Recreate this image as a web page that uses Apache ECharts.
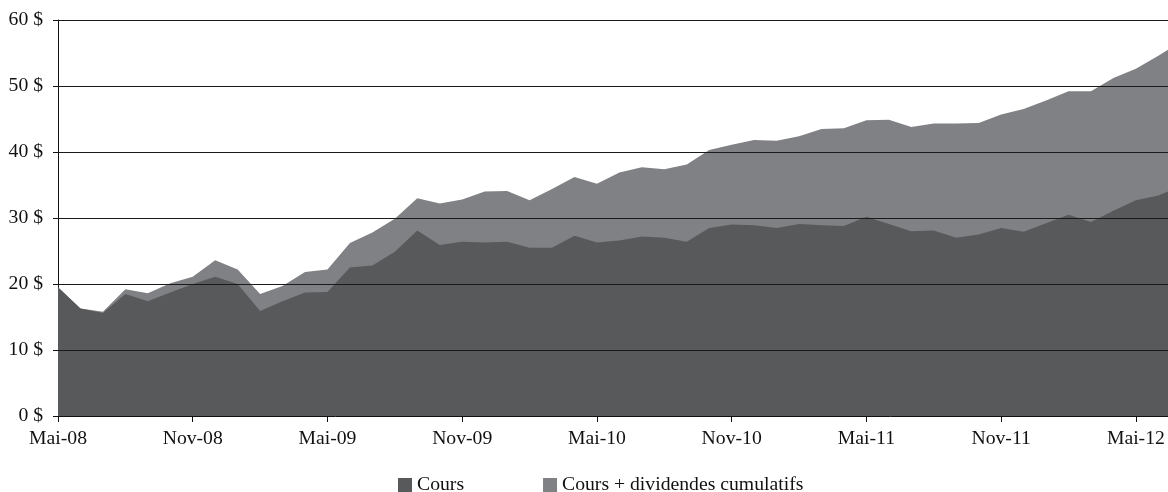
<!DOCTYPE html>
<html>
<head>
<meta charset="utf-8">
<script src="https://cdn.jsdelivr.net/npm/echarts@6/dist/echarts.min.js"></script>
<style>
  html, body { margin: 0; padding: 0; background: #fff; }
  #chart { width: 1168px; height: 492px; }
</style>
</head>
<body>
<div id="chart"></div>
<script>
// Monthly labels, May 2008 to July 2012
const months = [
  'Mai-08','Juin-08','Juil-08','Août-08','Sept-08','Oct-08','Nov-08','Déc-08',
  'Janv-09','Févr-09','Mars-09','Avr-09','Mai-09','Juin-09','Juil-09','Août-09',
  'Sept-09','Oct-09','Nov-09','Déc-09','Janv-10','Févr-10','Mars-10','Avr-10',
  'Mai-10','Juin-10','Juil-10','Août-10','Sept-10','Oct-10','Nov-10','Déc-10',
  'Janv-11','Févr-11','Mars-11','Avr-11','Mai-11','Juin-11','Juil-11','Août-11',
  'Sept-11','Oct-11','Nov-11','Déc-11','Janv-12','Févr-12','Mars-12','Avr-12',
  'Mai-12','Juin-12','Juil-12'
];

// Share price ($)
const cours = [
  19.5, 16.3, 15.6, 18.5, 17.4, 18.7, 20.0, 21.1, 20.0, 15.9, 17.4, 18.7,
  18.8, 22.5, 22.8, 24.9, 28.1, 25.9, 26.4, 26.3, 26.4, 25.5, 25.5, 27.3,
  26.3, 26.6, 27.2, 27.0, 26.4, 28.5, 29.0, 28.9, 28.5, 29.1, 28.9, 28.8,
  30.2, 29.1, 28.0, 28.1, 27.0, 27.5, 28.5, 27.9, 29.2, 30.5, 29.4, 31.1,
  32.7, 33.4, 34.8
];

// Share price plus cumulative dividends ($)
const coursDividendes = [
  19.5, 16.3, 15.8, 19.2, 18.6, 20.1, 21.1, 23.6, 22.2, 18.5, 19.7, 21.8,
  22.2, 26.2, 27.8, 29.9, 33.0, 32.2, 32.8, 34.0, 34.1, 32.7, 34.4, 36.2,
  35.2, 36.9, 37.7, 37.4, 38.1, 40.3, 41.1, 41.8, 41.7, 42.4, 43.5, 43.6,
  44.8, 44.9, 43.8, 44.3, 44.3, 44.4, 45.7, 46.5, 47.8, 49.2, 49.2, 51.2,
  52.6, 54.6, 56.7
];

const yTicks = [0, 10, 20, 30, 40, 50, 60];
const xTickIdx = [0, 6, 12, 18, 24, 30, 36, 42, 48];

const FONT = '"Liberation Serif", "DejaVu Serif", serif';
const FONT_SIZE = 19.7;
const DARK = '#58595b';
const LIGHT = '#808184';

const toPairs = arr => arr.map((v, i) => [i, v]);

const chart = echarts.init(document.getElementById('chart'), null, { renderer: 'canvas' });

chart.setOption({
  animation: false,
  backgroundColor: '#ffffff',
  grid: { left: 58, right: 0, top: 20, bottom: 76, containLabel: false },
  legend: {
    data: ['Cours', 'Cours + dividendes cumulatifs'],
    left: 398,
    top: 475,
    padding: 0,
    icon: 'rect',
    itemWidth: 14,
    itemHeight: 14,
    itemGap: 79,
    textStyle: { fontFamily: FONT, fontSize: FONT_SIZE, color: '#111' }
  },
  xAxis: {
    type: 'value',
    min: 0,
    max: 49.43,
    interval: 6,
    axisLine: { show: true, onZero: false, lineStyle: { color: '#111', width: 1 } },
    axisTick: { show: true, length: 6, lineStyle: { color: '#111' }, customValues: xTickIdx },
    axisLabel: {
      margin: 13,
      fontFamily: FONT,
      fontSize: FONT_SIZE,
      color: '#111',
      customValues: xTickIdx,
      formatter: v => months[Math.round(v)] || ''
    },
    splitLine: { show: false }
  },
  yAxis: {
    type: 'value',
    min: 0,
    max: 60,
    interval: 10,
    axisLine: { show: true, lineStyle: { color: '#111', width: 1 } },
    axisTick: { show: true, length: 5, lineStyle: { color: '#111' } },
    axisLabel: {
      margin: 15,
      fontFamily: FONT,
      fontSize: FONT_SIZE,
      color: '#111',
      formatter: v => v + ' $'
    },
    splitLine: { show: false }
  },
  series: [
    {
      name: 'Cours + dividendes cumulatifs',
      type: 'line',
      data: toPairs(coursDividendes),
      symbol: 'none',
      lineStyle: { width: 0 },
      itemStyle: { color: LIGHT },
      areaStyle: { color: LIGHT, opacity: 1 },
      clip: true
    },
    {
      name: 'Cours',
      type: 'line',
      data: toPairs(cours),
      symbol: 'none',
      lineStyle: { width: 0 },
      itemStyle: { color: DARK },
      areaStyle: { color: DARK, opacity: 1 },
      clip: true,
      // horizontal gridlines drawn over both areas
      markLine: {
        silent: true,
        symbol: ['none', 'none'],
        label: { show: false },
        lineStyle: { color: '#1a1a1a', width: 1.2, type: 'solid' },
        data: yTicks.filter(v => v > 0).map(v => ({ yAxis: v }))
      }
    }
  ]
});
</script>
</body>
</html>
